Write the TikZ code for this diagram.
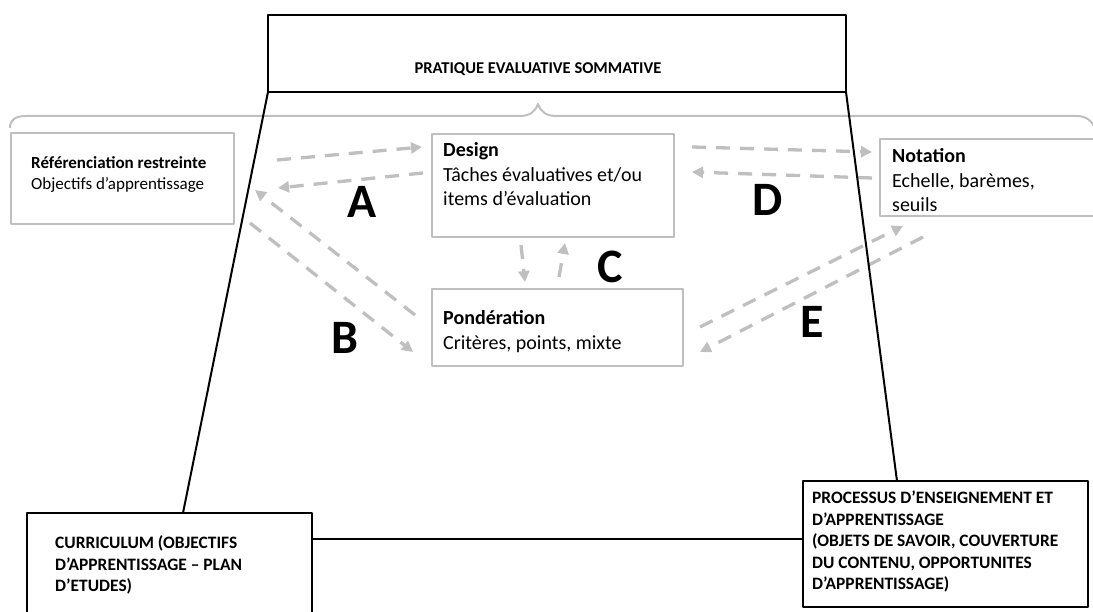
\documentclass[tikz,border=0pt]{standalone}
\usepackage{fontspec}
\setmainfont{Carlito}
\usetikzlibrary{positioning,arrows.meta}
\definecolor{boxgray}{RGB}{191,191,191}
\tikzset{
  graybox/.style={draw=boxgray,line width=2pt,inner sep=0pt,outer sep=0pt,anchor=north west},
  blackbox/.style={draw=black,line width=2.5pt,inner sep=0pt,outer sep=0pt,anchor=north west},
  bigtxt/.style={inner sep=0pt,anchor=north west,align=left,font=\fontsize{20}{24.5}\selectfont},
  smalltxt/.style={inner sep=0pt,anchor=north west,align=left,font=\fontsize{17}{21}\selectfont},
  capstxt/.style={inner sep=0pt,anchor=north west,align=left,font=\fontsize{17.4}{21.5}\selectfont\bfseries},
  link/.style={draw=boxgray,line width=3.3pt,dash pattern=on 14pt off 10pt,-{Triangle[length=11pt,width=11pt]}},
  letter/.style={inner sep=0pt,font=\fontsize{48}{48}\selectfont\bfseries}
}
\begin{document}
\begin{tikzpicture}[x=1pt,y=-1pt,line join=round]
\useasboundingbox (0,0) rectangle (1093,612);
\clip (0,0) rectangle (1093,612);
% cadre du haut et accolade
\node[draw,line width=2pt,inner sep=0pt,outer sep=0pt,anchor=north west,minimum width=578pt,minimum height=77pt] (top) at (268,15) {};
\node[inner sep=0pt,font=\fontsize{16.5}{20}\selectfont\bfseries] (toptxt) at (538,69) {PRATIQUE EVALUATIVE SOMMATIVE};
\draw[boxgray,line width=2pt] (10,128) .. controls (10,120) and (15,116) .. (26,116) -- (519,116)
  .. controls (530,116) and (535,112) .. (538,104) .. controls (541,112) and (546,116) .. (557,116)
  -- (1076,116) .. controls (1086,116) and (1091,120) .. (1095,128);
% cases grises
\node[graybox,minimum width=223pt,minimum height=91pt] (ref) at (11,133) {};
\node[graybox,minimum width=242pt,minimum height=103pt] (design) at (432,134) {};
\node[graybox,minimum width=251pt,minimum height=77pt] (pond) at (432,289) {};
\node[graybox,minimum width=230pt,minimum height=77pt] (notation) at (880,139) {};
\node[smalltxt,below right=23.8pt and 20pt of ref.north west] (reftxt) {\textbf{Référenciation restreinte}\\Objectifs d’apprentissage};
\node[bigtxt,below right=8.6pt and 11pt of design.north west] (designtxt) {\textbf{Design}\\Tâches évaluatives et/ou\\items d’évaluation};
\node[bigtxt,below right=21.6pt and 11pt of pond.north west] (pondtxt) {\textbf{Pondération}\\Critères, points, mixte};
\node[bigtxt,below right=9.6pt and 12pt of notation.north west] (notationtxt) {\textbf{Notation}\\Echelle, barèmes,\\seuils};
% fleches
\draw[link] ([shift={(43,27)}]ref.north east) -- ([shift={(-10,13)}]design.north west);
\draw[link] ([shift={(-9,39)}]design.north west) -- ([shift={(44,55)}]ref.north east);
\draw[link] ([shift={(-17,26)}]pond.north west) -- ([shift={(21,57)}]ref.north east);
\draw[link] ([shift={(16,-1)}]ref.south east) -- ([shift={(-19,63)}]pond.north west);
\draw[link] ([shift={(89,8)}]design.south west) -- ([shift={(93,-7)}]pond.north west);
\draw[link] ([shift={(127,-12)}]pond.north west) -- ([shift={(133,6)}]design.south west);
\draw[link] ([shift={(18,13)}]design.north east) -- ([shift={(-8,13)}]notation.north west);
\draw[link] ([shift={(-8,39)}]notation.north west) -- ([shift={(18,38)}]design.north east);
\draw[link] ([shift={(17,38)}]pond.north east) -- ([shift={(23,10)}]notation.south west);
\draw[link] ([shift={(43,21)}]notation.south west) -- ([shift={(17,63)}]pond.north east);
\node[letter] (la) at (362,202) {A};
\node[letter] (lb) at (345,338) {B};
\node[letter] (lc) at (610,267) {C};
\node[letter] (ld) at (768,200) {D};
\node[letter] (le) at (812,322) {E};
% cases du bas et trapeze
\node[blackbox,minimum width=285pt,minimum height=120pt] (curric) at (27,513) {};
\node[blackbox,minimum width=285pt,minimum height=126pt] (process) at (803,481) {};
\node[capstxt,below right=22.8pt and 28pt of curric.north west] (currictxt) {CURRICULUM (OBJECTIFS\\D’APPRENTISSAGE – PLAN\\D’ETUDES)};
\node[capstxt,below right=9.8pt and 9pt of process.north west] (processtxt) {PROCESSUS D’ENSEIGNEMENT ET\\D’APPRENTISSAGE\\(OBJETS DE SAVOIR, COUVERTURE\\DU CONTENU, OPPORTUNITES\\D’APPRENTISSAGE)};
\draw[line width=2pt] (top.south west) -- ([shift={(156,0)}]curric.north west);
\draw[line width=2pt] (top.south east) -- ([shift={(94,0)}]process.north west);
\draw[line width=2pt] ([shift={(0,26)}]curric.north east) -- ([shift={(0,58)}]process.north west);
\end{tikzpicture}
\end{document}
